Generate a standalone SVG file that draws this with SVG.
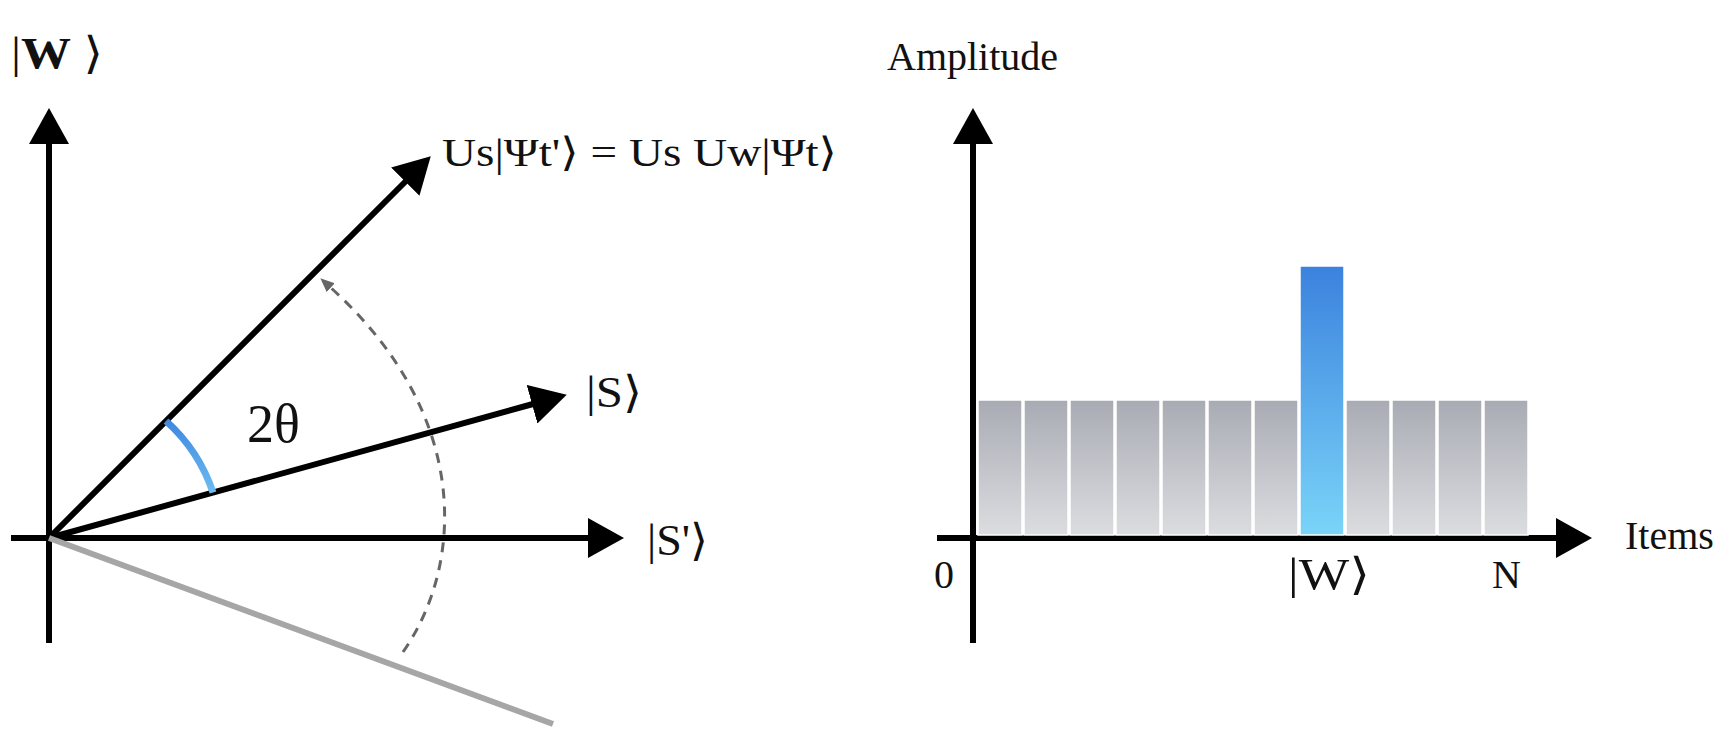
<svg xmlns="http://www.w3.org/2000/svg" width="1733" height="743" viewBox="0 0 1733 743">
<style>
.ax{stroke:#000;stroke-width:6;fill:none}
.lbl{font-family:"Liberation Serif","DejaVu Serif",serif;font-size:40px;fill:#111}
.ket{font-size:44px}
.bar{fill:url(#gGray);stroke:#fff;stroke-width:1.5}
</style>
<defs>
<marker id="arr" markerUnits="userSpaceOnUse" markerWidth="36" markerHeight="40" viewBox="0 0 36 40" refX="1" refY="20" orient="auto"><path d="M0,0 L36,20 L0,40 z" fill="#000"/></marker>
<marker id="arrSmall" markerUnits="userSpaceOnUse" markerWidth="14" markerHeight="12" viewBox="0 0 14 12" refX="1" refY="6" orient="auto"><path d="M0,0 L14,6 L0,12 z" fill="#666"/></marker>
<linearGradient id="gGray" x1="0" y1="0" x2="0" y2="1"><stop offset="0" stop-color="#a9abb4"/><stop offset="1" stop-color="#dcdde0"/></linearGradient>
<linearGradient id="gBlue" x1="0" y1="0" x2="0" y2="1"><stop offset="0" stop-color="#3b82de"/><stop offset="1" stop-color="#7ad4f8"/></linearGradient>
<linearGradient id="gArc" gradientUnits="userSpaceOnUse" x1="0" y1="418" x2="0" y2="493"><stop offset="0" stop-color="#3d86e0"/><stop offset="1" stop-color="#6cbcf0"/></linearGradient>
</defs>

<g id="connectors">
<line class="ax" x1="49" y1="643" x2="49" y2="143" marker-end="url(#arr)"/>
<line class="ax" x1="11" y1="538" x2="589" y2="538" marker-end="url(#arr)"/>
<line class="ax" x1="49" y1="538" x2="406" y2="181" marker-end="url(#arr)"/>
<line class="ax" x1="49" y1="538" x2="533" y2="404" marker-end="url(#arr)"/>
<line x1="49" y1="538" x2="553" y2="724" stroke="#a6a6a6" stroke-width="6"/>
<path d="M166,421 A168,168 0 0 1 213,492.5" fill="none" stroke="url(#gArc)" stroke-width="7"/>
<path d="M403,652 C464,565 472,415 330,287" fill="none" stroke="#666" stroke-width="3" stroke-dasharray="10,8" marker-end="url(#arrSmall)"/>
<line class="ax" x1="973" y1="643" x2="973" y2="143" marker-end="url(#arr)"/>
<line class="ax" x1="937" y1="538" x2="1557" y2="538" marker-end="url(#arr)"/>
</g>

<g id="bars">
<rect class="bar" x="978" y="400" width="44" height="135"/>
<rect class="bar" x="1024" y="400" width="44" height="135"/>
<rect class="bar" x="1070" y="400" width="44" height="135"/>
<rect class="bar" x="1116" y="400" width="44" height="135"/>
<rect class="bar" x="1162" y="400" width="44" height="135"/>
<rect class="bar" x="1208" y="400" width="44" height="135"/>
<rect class="bar" x="1254" y="400" width="44" height="135"/>
<rect id="target" x="1300" y="266" width="44" height="269" fill="url(#gBlue)" stroke="#fff" stroke-width="1.5"/>
<rect class="bar" x="1346" y="400" width="44" height="135"/>
<rect class="bar" x="1392" y="400" width="44" height="135"/>
<rect class="bar" x="1438" y="400" width="44" height="135"/>
<rect class="bar" x="1484" y="400" width="44" height="135"/>
</g>

<g id="label-w"><text class="lbl ket" x="11" y="68" textLength="92" lengthAdjust="spacingAndGlyphs">|<tspan font-weight="bold">W</tspan> ⟩</text></g>
<g id="label-us"><text class="lbl" x="442" y="166" textLength="395" lengthAdjust="spacingAndGlyphs">Us|Ψt'⟩ = Us Uw|Ψt⟩</text></g>
<g id="label-s"><text class="lbl ket" x="586" y="407" textLength="56" lengthAdjust="spacingAndGlyphs">|S⟩</text></g>
<g id="label-sp"><text class="lbl ket" x="647" y="555" textLength="61" lengthAdjust="spacingAndGlyphs">|S'⟩</text></g>
<g id="label-2theta"><text class="lbl" x="247" y="442" style="font-size:54px">2θ</text></g>
<g id="label-amp"><text class="lbl" x="887" y="70">Amplitude</text></g>
<g id="label-items"><text class="lbl" x="1625" y="549">Items</text></g>
<g id="label-0"><text class="lbl" x="934" y="588">0</text></g>
<g id="label-wk"><text class="lbl ket" x="1288" y="589" textLength="82" lengthAdjust="spacingAndGlyphs">|W⟩</text></g>
<g id="label-n"><text class="lbl" x="1492" y="588">N</text></g>
</svg>
